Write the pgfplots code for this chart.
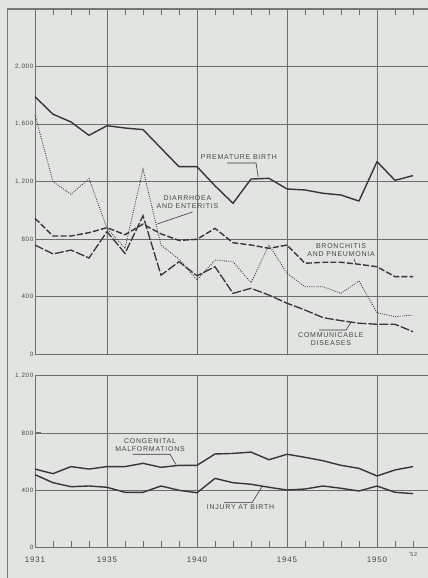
\documentclass[border=0pt]{standalone}
\usepackage{fontspec}
\setmainfont{Liberation Sans}
\newfontfamily\labfont[LetterSpace=11]{Liberation Sans}
\newfontfamily\xfont[LetterSpace=10]{Liberation Sans}
\usepackage{pgfplots}
\usepackage{pgfplotstable}
\pgfplotsset{compat=1.18}
\definecolor{bg}{HTML}{E2E4E1}
\definecolor{ink}{HTML}{353635}
\definecolor{gridc}{HTML}{6C6E6B}
\definecolor{txt}{HTML}{454745}
\definecolor{outer}{HTML}{767875}

\pgfplotstableread{
year prem diar bron comm
1931 1790 1663 944 758
1932 1668 1199 821 696
1933 1614 1111 821 723
1934 1521 1220 844 668
1935 1588 874 879 851
1936 1572 735 830 700
1937 1561 1285 903 962
1938 1432 758 836 548
1939 1303 660 790 642
1940 1303 515 798 544
1941 1170 654 874 607
1942 1048 642 774 422
1943 1217 496 758 457
1944 1222 758 735 410
1945 1148 561 758 353
1946 1141 468 631 306
1947 1118 468 638 253
1948 1106 422 638 232
1949 1064 508 624 214
1950 1338 287 607 207
1951 1208 260 538 207
1952 1241 271 538 155
}\tabUp

\pgfplotstableread{
year cong inj
1931 548 509
1932 516 453
1933 565 425
1934 548 430
1935 565 421
1936 565 386
1937 588 386
1938 560 430
1939 574 400
1940 574 383
1941 653 483
1942 657 453
1943 666 442
1944 613 421
1945 651 402
1946 630 409
1947 606 430
1948 574 414
1949 553 395
1950 500 430
1951 542 386
1952 565 377
}\tabLo

\tikzset{
  dline/.style={ink, line width=1.4bp, line join=round},
  lab/.style={font=\labfont\fontsize{7}{8}\selectfont, text=txt, align=center, inner sep=0pt},
  lead/.style={ink, line width=0.6bp},
}
\pgfplotsset{
  panel/.style={
    scale only axis, width=393bp,
    xmin=1931, xmax=1952.833, ymin=0, clip=false,
    axis line style={gridc, line width=0.9bp},
    axis y line*=left,
    ymajorgrids,
    grid style={gridc, line width=0.7bp},
    tick align=inside,
    every tick/.style={gridc, line width=0.8bp},
    major tick length=6.5bp,
    xtick={1931,...,1952},
    extra x ticks={1935,1940,1945,1950},
    extra x tick labels={},
    extra x tick style={xmajorgrids=true},
    /pgf/number format/assume math mode=true,
    yticklabel style={font=\xfont\fontsize{6.3}{7}\selectfont, text=txt, inner sep=1.5bp},
    xticklabel style={font=\xfont\fontsize{8}{9}\selectfont, text=txt, anchor=base, yshift=-14.5bp},
  },
}

\begin{document}
\begin{tikzpicture}
\fill[bg] (0,0) rectangle (428bp,578bp);

\begin{axis}[panel, name=up, at={(35bp,224bp)}, anchor=south west,
  height=345bp, ymax=2400,
  ytick={0,400,...,2000},
  axis x line*=top, xticklabels={}]
  \addplot[dline] table[x=year,y=prem] {\tabUp};
  \addplot[ink, line width=0.85bp, dash pattern=on 0.9bp off 1.3bp] table[x=year,y=diar] {\tabUp};
  \addplot[ink, line width=1.4bp, dash pattern=on 6bp off 2.2bp] table[x=year,y=bron] {\tabUp};
  \addplot[ink, line width=1.3bp, dash pattern=on 9bp off 2bp] table[x=year,y=comm] {\tabUp};
  % labels
  \node[lab] at (axis cs:1942.33,1368) {PREMATURE BIRTH};
  \draw[lead] (axis cs:1941.67,1329) -- (axis cs:1943.28,1329) -- (axis cs:1943.4,1232);
  \node[lab] at (axis cs:1939.47,1057) {DIARRHOEA\\AND ENTERITIS};
  \draw[lead] (axis cs:1939.75,988) -- (axis cs:1937.8,905);
  \node[lab] at (axis cs:1948.0,721) {BRONCHITIS\\AND PNEUMONIA};
  \draw[lead] (axis cs:1948.72,663) -- (axis cs:1948.8,633);
  \node[lab] at (axis cs:1947.44,101) {COMMUNICABLE\\DISEASES};
  \draw[lead] (axis cs:1946.78,167) -- (axis cs:1948.28,167) -- (axis cs:1948.56,222);
\end{axis}

\begin{axis}[panel, name=lo, at={(35bp,30.3bp)}, anchor=south west,
  height=172.2bp, ymax=1200,
  ytick={0,400,800,1200},
  axis x line*=bottom,
  xticklabels={1931,{},{},{},1935,{},{},{},{},1940,{},{},{},{},1945,{},{},{},{},1950,{},{\raisebox{5.5bp}{\fontsize{5.5}{6}\selectfont '52}}}]
  \addplot[dline] table[x=year,y=cong] {\tabLo};
  \addplot[dline] table[x=year,y=inj] {\tabLo};
  \node[lab] at (axis cs:1937.39,714) {CONGENITAL\\MALFORMATIONS};
  \draw[lead] (axis cs:1936.44,651) -- (axis cs:1938.5,651) -- (axis cs:1938.83,580);
  \node[lab] at (axis cs:1942.42,280) {INJURY AT BIRTH};
  \draw[lead] (axis cs:1941.5,314) -- (axis cs:1943.06,314) -- (axis cs:1943.61,425);
\end{axis}

\draw[outer, line width=1.6bp] (7.3bp,0) -- (7.3bp,569bp) -- (428bp,569bp);

\pgfresetboundingbox
\path (0,0) rectangle (428bp,578bp);
\end{tikzpicture}
\end{document}
